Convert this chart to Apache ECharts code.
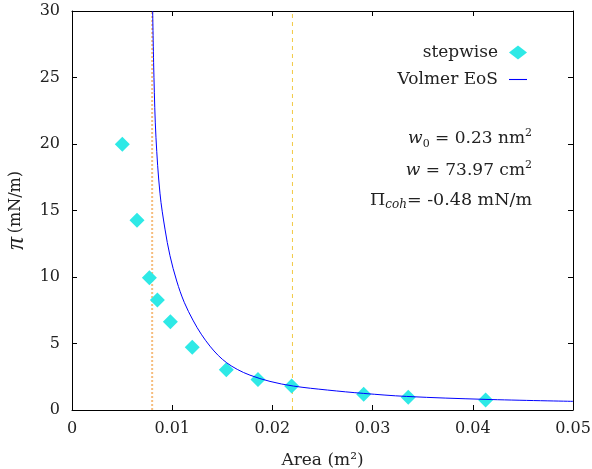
<!DOCTYPE html>
<html>
<head>
<meta charset="utf-8">
<script src="https://cdn.jsdelivr.net/npm/echarts@6/dist/echarts.min.js"></script>
<style>
html,body{margin:0;padding:0;background:#fff;}
#c{width:592px;height:469px;}
</style>
</head>
<body>
<div id="c"></div>
<script>
// stepwise data (Area in m^2, surface pressure in mN/m)
const areaStep = [0.00502, 0.00649, 0.00772, 0.00852, 0.00982, 0.0120, 0.0154, 0.01856, 0.02192, 0.02911, 0.03356, 0.04128];
const piStep   = [19.98, 14.26, 9.95, 8.27, 6.64, 4.71, 3.03, 2.30, 1.80, 1.18, 0.95, 0.75];

// Volmer EoS curve
const areaFit = [0.00805, 0.00818, 0.00838, 0.00878, 0.00928, 0.00978, 0.01045, 0.01120, 0.01211, 0.01290, 0.01377, 0.01460, 0.01544, 0.01650, 0.01776, 0.01976, 0.02209, 0.02550, 0.02907, 0.03340, 0.04122, 0.05000];
const piFit   = [30.0, 25.0, 20.5, 16.3, 13.6, 11.6, 9.7, 8.1, 6.7, 5.7, 4.8, 4.1, 3.55, 3.05, 2.62, 2.15, 1.80, 1.50, 1.25, 1.02, 0.80, 0.65];

// vertical reference lines (x positions) and the y span they cover
const vLineDotted = 0.008;
const vLineDashed = 0.022;
const vSpan = [0, 30];

const xTicks = [0, 0.01, 0.02, 0.03, 0.04, 0.05];
const yTicks = [0, 5, 10, 15, 20, 25, 30];

const FONT = 'DejaVu Serif';
const chart = echarts.init(document.getElementById('c'), null, {renderer: 'canvas'});

function axisCommon() {
  return {
    axisLine: {show: true, onZero: false, lineStyle: {color: '#000', width: 1}},
    axisTick: {show: true, inside: true, length: 5, lineStyle: {color: '#000'}},
    splitLine: {show: false}
  };
}

chart.setOption({
  animation: false,
  backgroundColor: '#fff',
  textStyle: {fontFamily: FONT},
  grid: {left: 72, right: 19, top: 11, bottom: 59, outerBoundsMode: 'none', containLabel: false},
  xAxis: [
    Object.assign({
      type: 'value', min: xTicks[0], max: xTicks[xTicks.length - 1], interval: 0.01,
      position: 'bottom',
      axisLabel: {color: '#222', fontFamily: FONT, fontSize: 16, margin: 11,
        formatter: v => (v === 0 ? '0' : String(+v.toFixed(2)))},
      name: 'Area (m²)', nameLocation: 'middle', nameGap: 42,
      nameTextStyle: {color: '#222', fontFamily: FONT, fontSize: 17}
    }, axisCommon()),
    Object.assign({
      type: 'value', min: 0, max: 0.05, interval: 0.01, position: 'top',
      axisLabel: {show: false}
    }, axisCommon())
  ],
  yAxis: [
    Object.assign({
      type: 'value', min: yTicks[0], max: yTicks[yTicks.length - 1], interval: 5,
      position: 'left',
      axisLabel: {color: '#222', fontFamily: FONT, fontSize: 16, margin: 12},
      name: '{p|π} {u|(mN/m)}', nameLocation: 'middle', nameRotate: 90, nameGap: 42,
      nameTextStyle: {
        color: '#222', fontFamily: FONT,
        rich: {
          p: {fontSize: 26, fontFamily: 'Liberation Serif', fontStyle: 'italic', color: '#222'},
          u: {fontSize: 16, fontFamily: FONT, color: '#222'}
        }
      }
    }, axisCommon()),
    Object.assign({
      type: 'value', min: 0, max: 30, interval: 5, position: 'right',
      axisLabel: {show: false}
    }, axisCommon())
  ],
  legend: {
    orient: 'vertical', right: 65, top: 44, align: 'right', padding: 0,
    itemWidth: 18, itemHeight: 14, itemGap: 10,
    textStyle: {fontFamily: FONT, fontSize: 17, color: '#222', padding: [0, 6, 0, 0]},
    data: [
      {name: 'stepwise', icon: 'diamond'},
      {name: 'Volmer EoS', icon: 'path://M0,0 L20,0 L20,1.2 L0,1.2 Z'}
    ]
  },
  graphic: [
    {
      type: 'text', right: 60, top: 128,
      style: {
        text: '{i|w}{s|0}{n| = 0.23 nm}{p|2}',
        textAlign: 'right',
        rich: {
          i: {fontFamily: FONT, fontSize: 17, fontStyle: 'italic', fill: '#222', lineHeight: 22},
          n: {fontFamily: FONT, fontSize: 17, fill: '#222', lineHeight: 22},
          s: {fontFamily: FONT, fontSize: 11, fill: '#222', verticalAlign: 'bottom', lineHeight: 22},
          p: {fontFamily: FONT, fontSize: 11, fill: '#222', verticalAlign: 'top', lineHeight: 22}
        }
      }
    },
    {
      type: 'text', right: 60, top: 160,
      style: {
        text: '{i|w}{n| = 73.97 cm}{p|2}',
        textAlign: 'right',
        rich: {
          i: {fontFamily: FONT, fontSize: 17, fontStyle: 'italic', fill: '#222', lineHeight: 22},
          n: {fontFamily: FONT, fontSize: 17, fill: '#222', lineHeight: 22},
          p: {fontFamily: FONT, fontSize: 11, fill: '#222', verticalAlign: 'top', lineHeight: 22}
        }
      }
    },
    {
      type: 'text', right: 60, top: 191,
      style: {
        text: '{n|Π}{s|coh}{n|= -0.48 mN/m}',
        textAlign: 'right',
        rich: {
          n: {fontFamily: FONT, fontSize: 17.5, fill: '#222', lineHeight: 22},
          s: {fontFamily: FONT, fontSize: 12, fontStyle: 'italic', fill: '#222', verticalAlign: 'bottom', lineHeight: 22}
        }
      }
    }
  ],
  series: [
    {
      name: 'vdotted', type: 'line', showSymbol: false, symbol: 'none', silent: true,
      lineStyle: {color: '#f6bd7e', type: [2, 2], width: 2},
      data: vSpan.map(y => [vLineDotted, y]), z: 1
    },
    {
      name: 'vdashed', type: 'line', showSymbol: false, symbol: 'none', silent: true,
      lineStyle: {color: '#f2c943', type: [4, 4], width: 1},
      data: vSpan.map(y => [vLineDashed, y]), z: 1
    },
    {
      name: 'stepwise', type: 'scatter', symbol: 'diamond', symbolSize: 15,
      itemStyle: {color: '#2ee9e6', opacity: 1},
      data: areaStep.map((a, i) => [a, piStep[i]]),
      z: 3
    },
    {
      name: 'Volmer EoS', type: 'line', showSymbol: false, symbol: 'none',
      smooth: 0.35, clip: true,
      lineStyle: {color: '#0000ff', width: 1},
      itemStyle: {color: '#0000ff'},
      data: areaFit.map((a, i) => [a, piFit[i]]),
      z: 4
    }
  ]
});
</script>
</body>
</html>
